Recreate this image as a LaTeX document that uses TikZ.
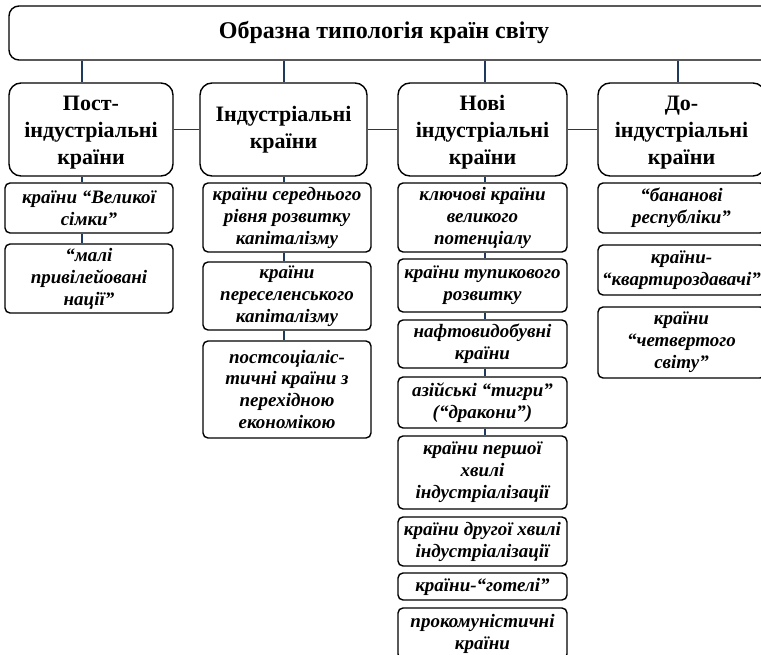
\documentclass[tikz,border=0pt]{standalone}
\usepackage{fontspec}
\setmainfont{Liberation Serif}
\usetikzlibrary{calc}
\definecolor{conncol}{HTML}{1F3A5F}
\newcommand{\topstrut}{\rule{0pt}{21pt}}
\begin{document}
\begin{tikzpicture}[x=1pt,y=-1pt,
  topbox/.style={draw=black, line width=1.4pt, rounded corners=10pt, inner sep=0pt},
  titletext/.style={inner sep=0pt, font=\bfseries\fontsize{24}{28}\selectfont},
  box/.style={draw=black, line width=1.4pt, rounded corners=12pt, align=center, inner sep=0pt, font=\bfseries\fontsize{22}{27}\selectfont},
  sub/.style={draw=black, line width=1.4pt, rounded corners=5pt, align=center, inner sep=0pt, font=\bfseries\itshape\fontsize{19}{22}\selectfont},
  conn/.style={draw=conncol, line width=1.2pt}]
\useasboundingbox (0,0) rectangle (761,655);
\clip (0,0) rectangle (761,655);
% top
\node[topbox, minimum width=766pt, minimum height=54pt] (top) at (392,33) {};
\node[titletext] (title) at (384,33) {Образна типологія країн світу};
% level 1
\node[box, minimum width=164pt, minimum height=93pt] (b1) at (91,129.5) {\topstrut Пост-\\індустріальні\\країни};
\node[box, minimum width=167pt, minimum height=93pt] (b2) at (283.5,129.5) {Індустріальні\\країни};
\node[box, minimum width=169pt, minimum height=93pt] (b3) at (482.5,129.5) {\topstrut Нові\\індустріальні\\країни};
\node[box, minimum width=167pt, minimum height=93pt] (b4) at (681.5,129.5) {\topstrut До-\\індустріальні\\країни};
% column 1
\node[sub, minimum width=168pt, minimum height=50pt] (s1a) at (89,208) {країни “Великої\\сімки”};
\node[sub, minimum width=168pt, minimum height=69pt] (s1b) at (89,278.5) {“малі\\привілейовані\\нації”};
% column 2
\node[sub, minimum width=168pt, minimum height=69pt] (s2a) at (287,217.5) {країни середнього\\рівня розвитку\\капіталізму};
\node[sub, minimum width=168pt, minimum height=68pt] (s2b) at (287,296) {країни\\переселенського\\капіталізму};
\node[sub, minimum width=168pt, minimum height=97pt] (s2c) at (287,389.5) {постсоціаліс-\\тичні країни з\\перехідною\\економікою};
% column 3
\node[sub, minimum width=169pt, minimum height=69pt] (s3a) at (482.5,217.5) {ключові країни\\великого\\потенціалу};
\node[sub, minimum width=169pt, minimum height=53pt] (s3b) at (482.5,285.5) {країни тупикового\\розвитку};
\node[sub, minimum width=169pt, minimum height=48pt] (s3c) at (482.5,344) {нафтовидобувні\\країни};
\node[sub, minimum width=169pt, minimum height=51pt] (s3d) at (482.5,402.5) {азійські “тигри”\\(“дракони”)};
\node[sub, minimum width=169pt, minimum height=73pt] (s3e) at (482.5,472.5) {країни першої\\хвилі\\індустріалізації};
\node[sub, minimum width=169pt, minimum height=49pt] (s3f) at (482.5,541.5) {країни другої хвилі\\індустріалізації};
\node[sub, minimum width=169pt, minimum height=27pt] (s3g) at (482.5,586.5) {країни-“готелі”};
\node[sub, minimum width=169pt, minimum height=51pt] (s3h) at (482.5,633.5) {прокомуністичні\\країни};
% column 4
\node[sub, minimum width=167pt, minimum height=50pt] (s4a) at (681.5,208) {“бананові\\республіки”};
\node[sub, minimum width=167pt, minimum height=50pt] (s4b) at (681.5,270) {країни-\\“квартироздавачі”};
\node[sub, minimum width=167pt, minimum height=71pt] (s4c) at (681.5,342.5) {країни\\“четвертого\\світу”};
% connector x positions
\coordinate (x1) at (82,0);
\coordinate (x2) at (284,0);
\coordinate (x3) at (485,0);
\coordinate (x4) at (678,0);
% top connectors
\draw[conn] (top.south -| x1) -- (b1.north -| x1);
\draw[conn] (top.south -| x2) -- (b2.north -| x2);
\draw[conn] (top.south -| x3) -- (b3.north -| x3);
\draw[conn] (top.south -| x4) -- (b4.north -| x4);
% horizontal connectors
\draw[conn] (b1.east) -- (b2.west);
\draw[conn] (b2.east) -- (b3.west);
\draw[conn] (b3.east) -- (b4.west);
% column connectors
\draw[conn] (b1.south -| x1) -- (s1a.north -| x1);
\draw[conn] (s1a.south -| x1) -- (s1b.north -| x1);
\draw[conn] (b2.south -| x2) -- (s2a.north -| x2);
\draw[conn] (s2a.south -| x2) -- (s2b.north -| x2);
\draw[conn] (s2b.south -| x2) -- (s2c.north -| x2);
\draw[conn] (b3.south -| x3) -- (s3a.north -| x3);
\draw[conn] (s3a.south -| x3) -- (s3b.north -| x3);
\draw[conn] (s3b.south -| x3) -- (s3c.north -| x3);
\draw[conn] (s3c.south -| x3) -- (s3d.north -| x3);
\draw[conn] (s3d.south -| x3) -- (s3e.north -| x3);
\end{tikzpicture}
\end{document}
